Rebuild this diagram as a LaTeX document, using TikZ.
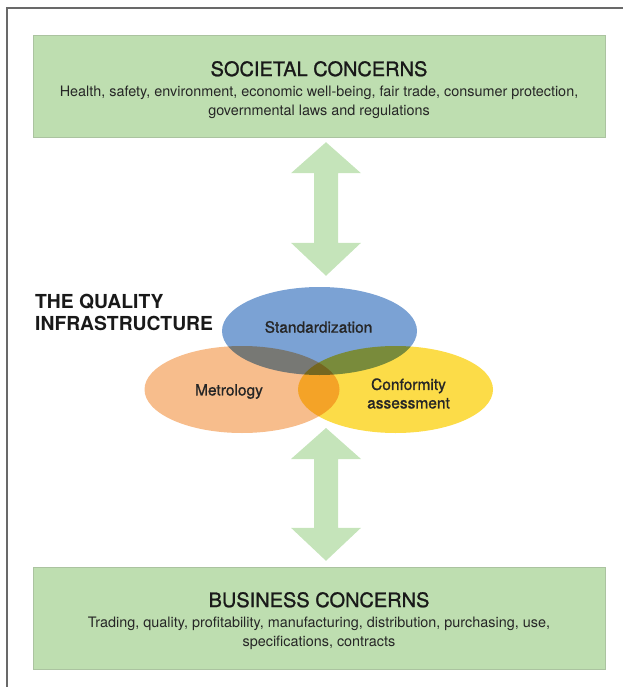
\documentclass[tikz,border=0pt]{standalone}
\usepackage{fontspec}
\setmainfont{TeX Gyre Heros}
\newfontfamily\medfont[FakeBold=1.1]{TeX Gyre Heros}
\usetikzlibrary{positioning,calc,shapes.geometric}

\definecolor{boxgreen}{RGB}{190,222,176}
\definecolor{arrowgreen}{RGB}{197,228,186}
\definecolor{stdblue}{RGB}{123,162,212}
\definecolor{metorange}{RGB}{247,189,140}
\definecolor{confyellow}{RGB}{252,220,72}
\definecolor{framegray}{RGB}{105,105,105}

\tikzset{
	concernbox/.style={rectangle, fill=boxgreen, draw=boxgreen!85!black!90, line width=0.4pt, minimum width=572pt, minimum height=102pt, inner sep=0pt},
	concerntitle/.style={font=\medfont\fontsize{20}{22}\selectfont, inner sep=0pt, text=black!90},
	concernbody/.style={font=\fontsize{14.4}{19}\selectfont, align=center, inner sep=0pt, text=black!85},
	pillar/.style={ellipse, inner sep=0pt, minimum width=195pt, minimum height=87pt},
	pillartext/.style={font=\medfont\fontsize{15.5}{18.5}\selectfont, align=center, inner sep=0pt, text=black!85},
}

% fat double arrow between two tips (top tip, bottom tip)
\newcommand{\fatarrow}[2]{%
	\fill[arrowgreen] (#1) -- ++(35,31) -- ++(-23,0) -- ($(#2)+(12,-33)$) -- ++(23,0) -- (#2)
		-- ++(-35,-33) -- ++(23,0) -- ($(#1)+(-12,31)$) -- ++(-23,0) -- cycle;}

\begin{document}
\begin{tikzpicture}[x=1pt,y=-1pt]
	\useasboundingbox (0,0) rectangle (623,687);
	\draw[framegray, line width=1.6pt] (7,687) -- (7,8) -- (623,8);   % frame, top and left only

	% the two concern boxes
	\node[concernbox] (soc) at (319,86) {};
	\node[concerntitle] (soctitle) at ($(soc.north)+(0,34)$) {SOCIETAL CONCERNS};
	\node[concernbody] (socbody) at ($(soc.north)+(0,67.5)$) {Health, safety, environment, economic well-being, fair trade, consumer protection,\\governmental laws and regulations};

	\node[concernbox] (bus) at (319,618) {};
	\node[concerntitle] (bustitle) at ($(bus.north)+(0,33)$) {BUSINESS CONCERNS};
	\node[concernbody] (busbody) at ($(bus.north)+(0,66.5)$) {Trading, quality, profitability, manufacturing, distribution, purchasing, use,\\specifications, contracts};

	% the three pillars
	\begin{scope}[blend group=multiply]
		\node[pillar, fill=metorange] (met) at (242,389.5) {};
		\node[pillar, fill=confyellow] (conf) at (395.5,389.5) {};
		\node[pillar, fill=stdblue, minimum height=88pt] (std) at (319.5,331) {};
	\end{scope}
	\node[pillartext] (stdtext) at ($(std.center)+(-1,-4)$) {Standardization};
	\node[pillartext] (mettext) at ($(met.center)+(-13,2)$) {Metrology};
	\node[pillartext] (conftext) at ($(conf.center)+(13,4)$) {Conformity\\assessment};

	\node[font=\bfseries\fontsize{19.3}{22}\selectfont, align=left, anchor=west, inner sep=0pt, text=black!90] (qi) at (35,312) {THE QUALITY\\INFRASTRUCTURE};

	% arrows
	\coordinate (socarr) at ($(soc.south)+(7,5)$);
	\coordinate (stdarr) at ($(std.north)+(6.5,-11)$);
	\coordinate (qiarr) at (326,428);
	\coordinate (busarr) at ($(bus.north)+(7,-6)$);
	\fatarrow{socarr}{stdarr}
	\fatarrow{qiarr}{busarr}
\end{tikzpicture}
\end{document}
